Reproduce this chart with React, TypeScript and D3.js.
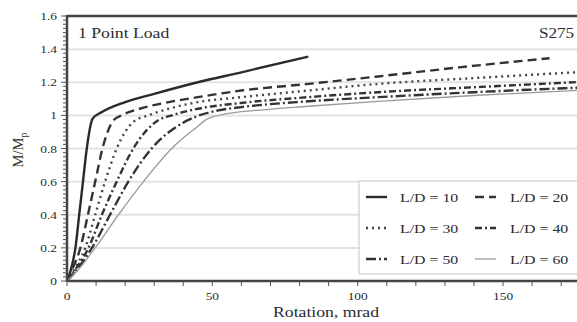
import * as d3 from "d3";

// rotation (mrad) and M/Mp, one pair of arrays per L/D
const ld10Rot = [0, 1.2, 2.9, 4.2, 5.5, 6.8, 8.8, 12, 20, 30, 45, 60, 83];
const ld10M = [0, 0.06, 0.2, 0.4, 0.6, 0.8, 0.98, 1.02, 1.08, 1.13, 1.2, 1.26, 1.355];

const ld20Rot = [0, 1.5, 4.6, 7.2, 9.7, 12.2, 16, 18.8, 25, 35, 45, 60, 83, 107, 135, 166];
const ld20M = [0, 0.06, 0.2, 0.4, 0.6, 0.8, 0.97, 1.0, 1.04, 1.08, 1.11, 1.15, 1.19, 1.235, 1.29, 1.345];

const ld30Rot = [0, 2, 6.3, 9.7, 13.1, 17.1, 22.8, 28, 35, 45, 60, 83, 107, 140, 180];
const ld30M = [0, 0.06, 0.2, 0.4, 0.6, 0.8, 0.96, 1.0, 1.04, 1.08, 1.11, 1.15, 1.19, 1.225, 1.265];

const ld40Rot = [0, 2.5, 7.4, 12, 17.1, 22.8, 31.4, 36, 45, 60, 83, 107, 140, 180];
const ld40M = [0, 0.06, 0.2, 0.4, 0.6, 0.8, 0.97, 1.0, 1.04, 1.075, 1.11, 1.14, 1.17, 1.205];

const ld50Rot = [0, 3, 8.6, 14.8, 21.1, 29.1, 39.4, 44, 52, 60, 83, 107, 140, 180];
const ld50M = [0, 0.06, 0.2, 0.4, 0.6, 0.8, 0.95, 0.99, 1.03, 1.05, 1.085, 1.11, 1.14, 1.17];

const ld60Rot = [0, 3.5, 9.7, 17.7, 26.3, 36, 44, 48.5, 55, 65, 83, 107, 140, 180];
const ld60M = [0, 0.06, 0.2, 0.4, 0.6, 0.8, 0.92, 0.98, 1.01, 1.03, 1.055, 1.085, 1.12, 1.155];

const labels = ["L/D = 10", "L/D = 20", "L/D = 30", "L/D = 40", "L/D = 50", "L/D = 60"];
const yTickLabels = ["0", "0.2", "0.4", "0.6", "0.8", "1", "1.2", "1.4", "1.6"];
const xTickLabels = ["0", "50", "100", "150"];

const seriesData = [
  [ld10Rot, ld10M],
  [ld20Rot, ld20M],
  [ld30Rot, ld30M],
  [ld40Rot, ld40M],
  [ld50Rot, ld50M],
  [ld60Rot, ld60M],
];

const lineStyles = [
  { color: "#2a2a2a", width: 2.4, dash: undefined },
  { color: "#333", width: 2.4, dash: "9,5" },
  { color: "#444", width: 2.4, dash: "2,4" },
  { color: "#333", width: 2.4, dash: "7,3,2,3" },
  { color: "#333", width: 2.4, dash: "10,3,2,3" },
  { color: "#9a9a9a", width: 1.3, dash: undefined },
];

const W = 577;
const H = 322;
const FONT = "'Liberation Serif', 'Times New Roman', serif";
const SX = 1.22; // reference text is stretched sideways

const Txt = ({ x, y, size, anchor = "start", children }: any) => (
  <text
    transform={`translate(${x},${y}) scale(${SX},1)`}
    fontSize={size}
    fontFamily={FONT}
    textAnchor={anchor}
    fill="#2b2b2b"
  >
    {children}
  </text>
);

export default function App() {
  const x = d3.scaleLinear().domain([0, 180]).range([67, 67 + 180 * 2.907]);
  const y = d3.scaleLinear().domain([0, 1.6]).range([281, 16]);

  const line = d3
    .line<[number, number]>()
    .x((d) => x(d[0]))
    .y((d) => y(d[1]))
    .curve(d3.curveMonotoneX);

  const minorY = d3.range(0, 1.6001, 0.025);
  const xTicks = d3.range(0, 181, 10);

  return (
    <svg width={W} height={H} style={{ position: "absolute", left: 0, top: 0, background: "#fff" }}>
      {/* grid */}
      {yTickLabels.slice(1, -1).map((t) => (
        <line key={t} x1={x(0)} x2={W} y1={y(+t)} y2={y(+t)} stroke="#e3e3e3" strokeWidth={2} />
      ))}

      {/* curves */}
      {seriesData.map(([rx, m], i) => (
        <path
          key={labels[i]}
          d={line(rx.map((v, j) => [v, m[j]] as [number, number])) || ""}
          fill="none"
          stroke={lineStyles[i].color}
          strokeWidth={lineStyles[i].width}
          strokeDasharray={lineStyles[i].dash}
        />
      ))}

      {/* legend */}
      <rect x={359} y={181} width={240} height={93} fill="#fff" stroke="#d8d8d8" strokeWidth={1.5} />
      {labels.map((l, i) => {
        const col = i % 2;
        const row = Math.floor(i / 2);
        const ly = 197 + row * 31;
        const lx = col === 0 ? 366 : 475;
        const tx = col === 0 ? 400 : 510;
        return (
          <g key={l}>
            <line
              x1={lx}
              x2={lx + 21}
              y1={ly}
              y2={ly}
              stroke={lineStyles[i].color}
              strokeWidth={lineStyles[i].width}
              strokeDasharray={lineStyles[i].dash}
            />
            <Txt x={tx} y={ly + 4.5} size={13}>
              {l}
            </Txt>
          </g>
        );
      })}

      {/* frame and axes */}
      <line x1={x(0)} x2={W} y1={y(1.6)} y2={y(1.6)} stroke="#444" strokeWidth={2.5} />
      <line x1={x(0)} x2={W} y1={y(0)} y2={y(0)} stroke="#444" strokeWidth={2.5} />
      <line x1={x(0)} x2={x(0)} y1={y(1.6) - 1} y2={y(0) + 1} stroke="#444" strokeWidth={2.5} />

      {minorY.map((v, i) => (
        <line
          key={i}
          x1={x(0) - (i % 8 === 0 ? 6 : 4)}
          x2={x(0)}
          y1={y(v)}
          y2={y(v)}
          stroke="#555"
          strokeWidth={1}
        />
      ))}
      {xTicks.map((v) => (
        <line key={v} x1={x(v)} x2={x(v)} y1={y(0)} y2={y(0) + 5} stroke="#555" strokeWidth={1} />
      ))}

      {yTickLabels.map((t) => (
        <Txt key={t} x={57} y={y(+t) + 4} size={11} anchor="end">
          {t}
        </Txt>
      ))}
      {xTickLabels.map((t) => (
        <Txt key={t} x={x(+t)} y={300} size={11} anchor="middle">
          {t}
        </Txt>
      ))}

      <Txt x={326} y={317} size={14.5} anchor="middle">
        Rotation, mrad
      </Txt>
      <text
        transform="translate(23,150) rotate(-90)"
        fontSize={14.5}
        fontFamily={FONT}
        textAnchor="middle"
        fill="#2b2b2b"
      >
        M/M
        <tspan fontSize={10} dy={4}>
          p
        </tspan>
      </text>

      <Txt x={78} y={38} size={14.5}>
        1 Point Load
      </Txt>
      <Txt x={574} y={38} size={14} anchor="end">
        S275
      </Txt>
    </svg>
  );
}
